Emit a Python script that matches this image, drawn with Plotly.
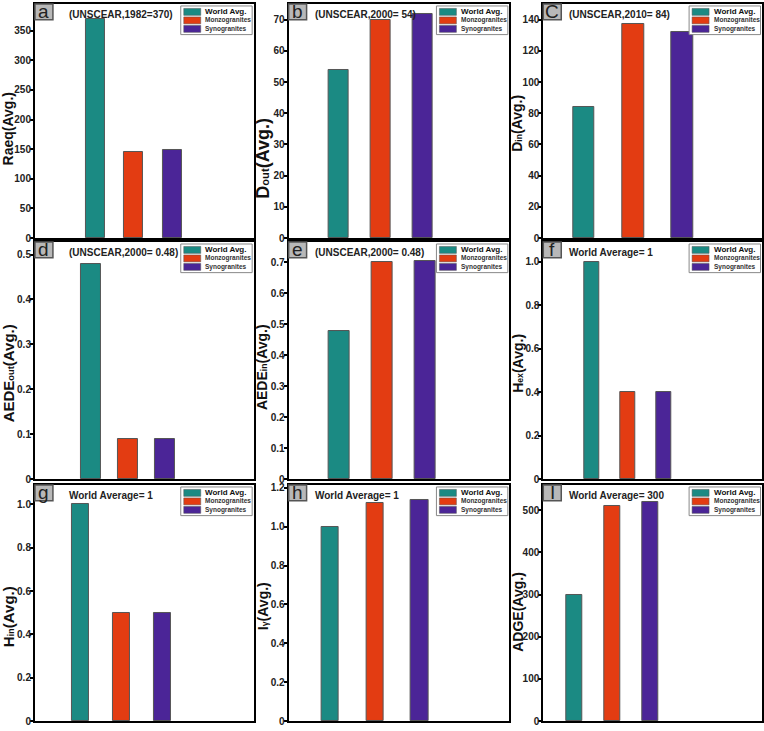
import plotly.graph_objects as go

# ---------------- data ----------------
series = ["World Avg.", "Monzogranites", "Synogranites"]

raeq = [370, 146, 148]
d_out = [54, 70, 71.8]
d_in = [84, 137, 132]
aede_out = [0.48, 0.09, 0.09]
aede_in = [0.48, 0.70, 0.705]
h_ex = [1.0, 0.40, 0.40]
h_in = [1.0, 0.50, 0.50]
i_gamma = [1.0, 1.12, 1.14]
adge = [300, 510, 520]

ticks_raeq = [0, 50, 100, 150, 200, 250, 300, 350]
ticks_dout = [0, 10, 20, 30, 40, 50, 60, 70]
ticks_din = [0, 20, 40, 60, 80, 100, 120, 140]
ticks_aede_out = [0, 0.1, 0.2, 0.3, 0.4, 0.5]
ticks_aede_in = [0, 0.1, 0.2, 0.3, 0.4, 0.5, 0.6, 0.7]
ticks_hex = [0, 0.2, 0.4, 0.6, 0.8, 1.0]
ticks_hin = [0, 0.2, 0.4, 0.6, 0.8, 1.0]
ticks_igamma = [0, 0.2, 0.4, 0.6, 0.8, 1.0, 1.2]
ticks_adge = [0, 100, 200, 300, 400, 500]

letters = ["a", "b", "C", "d", "e", "f", "g", "h", "I"]
SUB = "<span style='font-size:0.62em'>%s</span>"
titles = ["Raeq(Avg.)", "D" + SUB % "out" + "(Avg.)", "D" + SUB % "in" + "(Avg.)",
          "AEDE" + SUB % "out" + "(Avg.)", "AEDE" + SUB % "in" + "(Avg.)",
          "H" + SUB % "ex" + "(Avg.)", "H" + SUB % "in" + "(Avg.)",
          "I" + SUB % "γ" + "(Avg.)", "ADGE(Avg.)"]
notes = ["(UNSCEAR,1982=370)", "(UNSCEAR,2000= 54)", "(UNSCEAR,2010= 84)",
         "(UNSCEAR,2000= 0.48)", "(UNSCEAR,2000= 0.48)", "World Average= 1",
         "World Average= 1", "World Average= 1", "World Average= 300"]
values = [raeq, d_out, d_in, aede_out, aede_in, h_ex, h_in, i_gamma, adge]
tick_sets = [ticks_raeq, ticks_dout, ticks_din, ticks_aede_out, ticks_aede_in,
             ticks_hex, ticks_hin, ticks_igamma, ticks_adge]
decimal = [False, False, False, True, True, True, True, True, False]

# ---------------- style / layout ----------------
W, H = 764, 731
colors = ["#1b8a83", "#e33c12", "#4b2597"]
FONT = "Liberation Sans, Arial, sans-serif"

cols = [(35, 254), (289, 510), (544, 763)]
rows = [(1, 238), (242, 482), (488, 727)]
y_top = [395, 75, 150, 0.528, 0.766, 1.09, 1.09, 1.215, 560]
# x-range (lo, hi) and bar width per panel (positions 1,2,3)
x_cfg = [(-0.55, 5.09, 0.49), (-0.19, 5.07, 0.48), (0.18, 4.61, 0.44),
         (-0.51, 5.38, 0.54), (-0.19, 4.98, 0.49), (-0.35, 5.74, 0.42),
         (-0.11, 5.22, 0.42), (0.08, 5.0, 0.38), (0.18, 5.95, 0.42)]
title_pos = [(8, 127, 14), (263, 157, 18), (518, 122, 14),
             (8, 375, 15), (263, 369, 14), (518, 365, 14),
             (8, 621, 15), (264, 611, 14), (519, 616, 14)]
note_off = [32, 24, 24]


def px(x):
    return x / W


def py(y):
    return 1 - y / H


fig = go.Figure()
shapes = []
annotations = []

for k in range(9):
    r, c = divmod(k, 3)
    L, R = cols[c]
    T, B = rows[r]
    ax = "" if k == 0 else str(k + 1)
    xa, ya = "x" + ax, "y" + ax
    lo, hi, bw = x_cfg[k]
    for i, name in enumerate(series):
        fig.add_trace(go.Bar(
            x=[i + 1], y=[values[k][i]], name=name, width=bw,
            marker=dict(color=colors[i], line=dict(color="#555555", width=1)),
            xaxis=xa, yaxis=ya, showlegend=False))
    tv = tick_sets[k]
    tt = [("0" if v == 0 else (f"{v:.1f}" if decimal[k] else f"{v:g}")) for v in tv]
    fig.layout["xaxis" + ax] = dict(
        domain=[px(L), px(R)], range=[lo, hi], anchor=ya,
        showline=True, mirror=True, linecolor="black", linewidth=2,
        showticklabels=False, ticks="", showgrid=False, zeroline=False, fixedrange=True)
    fig.layout["yaxis" + ax] = dict(
        domain=[py(B), py(T)], range=[0, y_top[k]], anchor=xa,
        showline=True, mirror=True, linecolor="black", linewidth=2,
        tickvals=tv, ticktext=tt, ticks="outside", ticklen=3, tickwidth=1.5,
        tickcolor="black", showgrid=False, zeroline=False, ticklabelstandoff=-3,
        tickfont=dict(family=FONT, size=10, color="#222222", weight="bold"))

    # panel letter box
    shapes.append(dict(type="rect", xref="paper", yref="paper",
                       x0=px(L), x1=px(L + 18), y0=py(T + 16), y1=py(T),
                       fillcolor="#b8b8b8", line=dict(color="#555555", width=1.5)))
    annotations.append(dict(xref="paper", yref="paper", x=px(L + 9), y=py(T + 8),
                            text=letters[k], showarrow=False, xanchor="center",
                            yanchor="middle",
                            font=dict(family=FONT, size=19, color="#222222")))
    # note text
    annotations.append(dict(xref="paper", yref="paper", x=px(L + note_off[c]),
                            y=py(T + 10.5), text=notes[k], showarrow=False,
                            xanchor="left", yanchor="middle",
                            font=dict(family=FONT, size=10, color="#222222",
                                      weight="bold")))
    # y title
    tx, tyc, ts = title_pos[k]
    annotations.append(dict(xref="paper", yref="paper", x=px(tx), y=py(tyc),
                            text=titles[k], showarrow=False, textangle=-90,
                            xanchor="center", yanchor="middle",
                            font=dict(family=FONT, size=ts, color="#111111",
                                      weight="bold")))
    # legend
    shapes.append(dict(type="rect", xref="paper", yref="paper",
                       x0=px(R - 73), x1=px(R - 1.5), y0=py(T + 31), y1=py(T + 2),
                       fillcolor="white", line=dict(color="#888888", width=1)))
    for i, name in enumerate(series):
        cy = T + 8 + i * 8.6
        shapes.append(dict(type="rect", xref="paper", yref="paper",
                           x0=px(R - 70), x1=px(R - 53), y0=py(cy + 3.5),
                           y1=py(cy - 3.5), fillcolor=colors[i],
                           line=dict(color="#555555", width=0.5)))
        annotations.append(dict(xref="paper", yref="paper", x=px(R - 50.5), y=py(cy),
                                text=name, showarrow=False, xanchor="left",
                                yanchor="middle",
                                font=dict(family=FONT, size=8 if i == 0 else 6.5,
                                          color="#111111" if i == 0 else "#333333",
                                          weight="bold")))

fig.update_layout(
    width=W, height=H, margin=dict(l=0, r=0, t=0, b=0),
    paper_bgcolor="white", plot_bgcolor="white",
    shapes=shapes, annotations=annotations, bargap=0, showlegend=False)

fig.write_html("out.html")
